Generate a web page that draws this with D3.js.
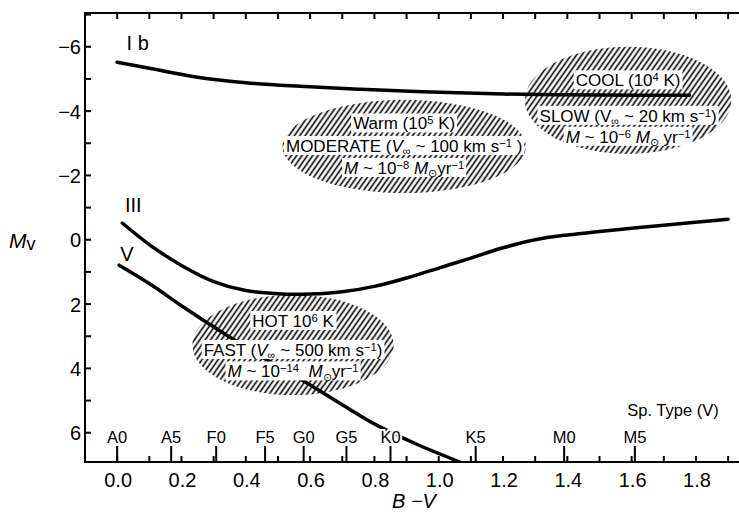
<!DOCTYPE html>
<html>
<head>
<meta charset="utf-8">
<script src="https://cdn.jsdelivr.net/npm/d3@7"></script>
<style>
  body { margin: 0; background: #fff; }
  svg { display: block; font-family: "Liberation Sans", Arial, Helvetica, sans-serif; }
  text { white-space: pre; }
</style>
</head>
<body>
<svg id="chart" width="739" height="514"></svg>
<script>
// ---- Axis ticks -----------------------------------------------------------
const bvLabels = [0.0, 0.2, 0.4, 0.6, 0.8, 1.0, 1.2, 1.4, 1.6, 1.8];
const bvMinor = [0.0, 0.1, 0.2, 0.3, 0.4, 0.5, 0.6, 0.7, 0.8, 0.9,
                 1.0, 1.1, 1.2, 1.3, 1.4, 1.5, 1.6, 1.7, 1.8, 1.9];
const mvLabels = [-6, -4, -2, 0, 2, 4, 6];
const mvMinor = [-7, -6, -5, -4, -3, -2, -1, 0, 1, 2, 3, 4, 5, 6];

// Main-sequence spectral types against B−V
const spTypes = ["A0", "A5", "F0", "F5", "G0", "G5", "K0", "K5", "M0", "M5"];
const spBV    = [0.0, 0.168, 0.308, 0.46, 0.58, 0.713, 0.85, 1.115, 1.39, 1.61];

// ---- Luminosity-class loci (B−V, M_V) ------------------------------------
const ibBV = [0.0, 0.1, 0.25, 0.4, 0.57, 0.75, 0.95, 1.2, 1.5, 1.78];
const ibMv = [-5.52, -5.33, -5.05, -4.88, -4.77, -4.68, -4.60, -4.53, -4.50, -4.49];

const iiiBV = [0.016, 0.1, 0.2, 0.3, 0.4, 0.5, 0.6, 0.7, 0.8, 0.9,
               1.0, 1.1, 1.2, 1.3, 1.4, 1.5, 1.7, 1.9];
const iiiMv = [-0.52, 0.15, 0.80, 1.30, 1.58, 1.68, 1.69, 1.62, 1.45, 1.19,
               0.88, 0.57, 0.25, 0.00, -0.15, -0.26, -0.45, -0.64];

const vBV = [0.006, 0.1, 0.2, 0.33, 0.46, 0.59, 0.7, 0.81, 0.93, 1.068];
const vMv = [0.79, 1.36, 2.05, 2.90, 3.70, 4.45, 5.13, 5.78, 6.35, 6.92];

const classNames = ["I b", "III", "V"];

// ---- Wind regimes: extent in B−V and M_V, and their descriptions ---------
const regionNames = ["warm", "cool", "hot"];
const regionBV = [[0.514, 1.271], [1.268, 1.910], [0.234, 0.860]];
const regionMv = [[-4.35, -1.45], [-6.00, -2.67], [1.71, 4.83]];
// each line is a list of [text, kind]; kind: "" plain, "i" italic, "sup", "sub"
const regionText = [
  [
    [["Warm (10", ""], ["5", "sup"], [" K)", ""]],
    [["MODERATE (", ""], ["V", "i"], ["∞", "sub"], [" ~ 100 km s", ""], ["−1", "sup"], [" )", ""]],
    [["M", "i"], [" ~ 10", ""], ["−8", "sup"], [" ", ""], ["M", "i"], ["⊙", "sub"], ["yr", ""], ["−1", "sup"]]
  ],
  [
    [["COOL (10", ""], ["4", "sup"], [" K)", ""]],
    [["SLOW (V", ""], ["∞", "sub"], [" ~ 20 km s", ""], ["−1", "sup"], [")", ""]],
    [["M", "i"], [" ~ 10", ""], ["−6", "sup"], [" ", ""], ["M", "i"], ["⊙", "sub"], [" yr", ""], ["−1", "sup"]]
  ],
  [
    [["HOT 10", ""], ["6", "sup"], [" K", ""]],
    [["FAST (", ""], ["V", "i"], ["∞", "sub"], [" ~ 500 km s", ""], ["−1", "sup"], [")", ""]],
    [["M", "i"], [" ~ 10", ""], ["−14", "sup"], ["  ", ""], ["M", "i"], ["⊙", "sub"], ["yr", ""], ["−1", "sup"]]
  ]
];

// ---- Layout ---------------------------------------------------------------
const W = 739, H = 514;
const plot = { left: 85, right: 741, top: 13, bottom: 462 };

const x = d3.scaleLinear().domain([-0.1, 1.94]).range([plot.left, plot.right]);
const y = d3.scaleLinear().domain([-7.05, 6.91]).range([plot.top, plot.bottom]);

const svg = d3.select("#chart");
const defs = svg.append("defs");

defs.append("clipPath").attr("id", "plotClip")
  .append("rect")
  .attr("x", plot.left).attr("y", plot.top)
  .attr("width", W - plot.left).attr("height", plot.bottom - plot.top);

const hatch = defs.append("pattern")
  .attr("id", "hatch")
  .attr("patternUnits", "userSpaceOnUse")
  .attr("width", 4.4).attr("height", 10)
  .attr("patternTransform", "rotate(35)");
hatch.append("line")
  .attr("x1", 2.2).attr("x2", 2.2).attr("y1", -1).attr("y2", 11)
  .attr("stroke", "#000").attr("stroke-width", 1.6);

// ---- Hatched regions ------------------------------------------------------
const regions = regionNames.map((name, i) => ({
  name,
  cx: (x(regionBV[i][0]) + x(regionBV[i][1])) / 2,
  cy: (y(regionMv[i][0]) + y(regionMv[i][1])) / 2,
  rx: Math.abs(x(regionBV[i][1]) - x(regionBV[i][0])) / 2,
  ry: Math.abs(y(regionMv[i][1]) - y(regionMv[i][0])) / 2,
  lines: regionText[i]
}));

svg.append("g").selectAll("ellipse")
  .data(regions)
  .join("ellipse")
  .attr("cx", d => d.cx).attr("cy", d => d.cy)
  .attr("rx", d => d.rx).attr("ry", d => d.ry)
  .attr("fill", "url(#hatch)");

// ---- Loci -----------------------------------------------------------------
const line = d3.line()
  .x(d => x(d[0])).y(d => y(d[1]))
  .curve(d3.curveCatmullRom.alpha(0.5));

const loci = [
  d3.zip(ibBV, ibMv),
  d3.zip(iiiBV, iiiMv),
  d3.zip(vBV, vMv)
];

svg.append("g").attr("clip-path", "url(#plotClip)")
  .selectAll("path")
  .data(loci)
  .join("path")
  .attr("d", line)
  .attr("fill", "none")
  .attr("stroke", "#000")
  .attr("stroke-width", 3.5)
  .attr("stroke-linecap", "round");

// class labels placed just above the start of each locus
const classPos = [[0.02, -5.9], [0.015, -0.85], [0.0, 0.65]];
svg.append("g").selectAll("text")
  .data(classNames)
  .join("text")
  .attr("x", (d, i) => x(classPos[i][0]) + 3)
  .attr("y", (d, i) => y(classPos[i][1]))
  .attr("font-size", 20)
  .text(d => d);

// ---- Region descriptions with white boxes ---------------------------------
const annSize = 17;
const lineOffsets = {
  warm: [-23.5, -1, 21],
  cool: [-20.5, 15, 36],
  hot:  [-24.5, 4.5, 26]
};

function writeRich(textSel, segs, size) {
  let cur = 0;
  segs.forEach(([str, kind]) => {
    const target = kind === "sup" ? -5 : kind === "sub" ? 3.5 : 0;
    const t = textSel.append("tspan")
      .attr("dy", target - cur)
      .text(str);
    cur = target;
    if (kind === "i") t.attr("font-style", "italic");
    if (kind === "sup" || kind === "sub") t.attr("font-size", size * 0.66);
  });
}

const annG = svg.append("g");
regions.forEach(r => {
  r.lines.forEach((segs, j) => {
    const cy = r.cy + lineOffsets[r.name][j];
    const g = annG.append("g");
    const rect = g.append("rect").attr("fill", "#fff");
    const t = g.append("text")
      .attr("x", r.cx)
      .attr("y", cy + 6.2)
      .attr("text-anchor", "middle")
      .attr("font-size", annSize);
    writeRich(t, segs, annSize);
    const bb = t.node().getBBox();
    rect.attr("x", bb.x - 2).attr("width", bb.width + 4)
        .attr("y", cy - 9.5).attr("height", 19);
  });
});

// ---- Axes -----------------------------------------------------------------
const axisG = svg.append("g").attr("stroke", "#000").attr("stroke-width", 2);

// frame: left, top, bottom
axisG.append("line").attr("x1", plot.left).attr("x2", plot.left)
  .attr("y1", plot.top - 1).attr("y2", plot.bottom + 1);
axisG.append("line").attr("x1", plot.left).attr("x2", W)
  .attr("y1", plot.top).attr("y2", plot.top);
axisG.append("line").attr("x1", plot.left).attr("x2", W)
  .attr("y1", plot.bottom).attr("y2", plot.bottom);

// top ticks
axisG.append("g").selectAll("line").data(bvMinor).join("line")
  .attr("x1", d => x(d)).attr("x2", d => x(d))
  .attr("y1", plot.top).attr("y2", plot.top + 6);

// bottom minor ticks
axisG.append("g").selectAll("line").data(bvMinor).join("line")
  .attr("x1", d => x(d)).attr("x2", d => x(d))
  .attr("y1", plot.bottom).attr("y2", plot.bottom - 6);

// bottom spectral-type ticks
axisG.append("g").selectAll("line").data(spBV).join("line")
  .attr("x1", d => x(d)).attr("x2", d => x(d))
  .attr("y1", plot.bottom).attr("y2", plot.bottom - 16);

// left ticks
axisG.append("g").selectAll("line").data(mvMinor).join("line")
  .attr("x1", plot.left).attr("x2", plot.left + 6)
  .attr("y1", d => y(d)).attr("y2", d => y(d));

// tick labels
const fmtBV = d3.format(".1f");
svg.append("g").selectAll("text").data(bvLabels).join("text")
  .attr("x", d => x(d) + 1)
  .attr("y", 487)
  .attr("text-anchor", "middle")
  .attr("font-size", 20)
  .text(d => fmtBV(d));

svg.append("g").selectAll("text").data(mvLabels).join("text")
  .attr("x", 81)
  .attr("y", d => y(d) + 7.5)
  .attr("text-anchor", "end")
  .attr("font-size", 20)
  .text(d => d < 0 ? "−" + Math.abs(d) : String(d));

// spectral type labels (white halo keeps them readable over the V locus)
svg.append("g").selectAll("text").data(spTypes).join("text")
  .attr("x", (d, i) => x(spBV[i]))
  .attr("y", 443)
  .attr("text-anchor", "middle")
  .attr("font-size", 16.5)
  .attr("stroke", "#fff").attr("stroke-width", 4)
  .attr("paint-order", "stroke")
  .text(d => d);

svg.append("text")
  .attr("x", 673).attr("y", 416)
  .attr("text-anchor", "middle")
  .attr("font-size", 16.5)
  .text("Sp. Type (V)");

// axis titles
svg.append("text")
  .attr("x", 414).attr("y", 508)
  .attr("text-anchor", "middle")
  .attr("font-size", 20)
  .attr("font-style", "italic")
  .text("B −V");

const mvTitle = svg.append("text")
  .attr("x", 9).attr("y", 248)
  .attr("font-size", 21);
mvTitle.append("tspan").attr("font-style", "italic").text("M");
mvTitle.append("tspan").attr("font-size", 18).attr("dy", 2).text("v");
</script>
</body>
</html>
